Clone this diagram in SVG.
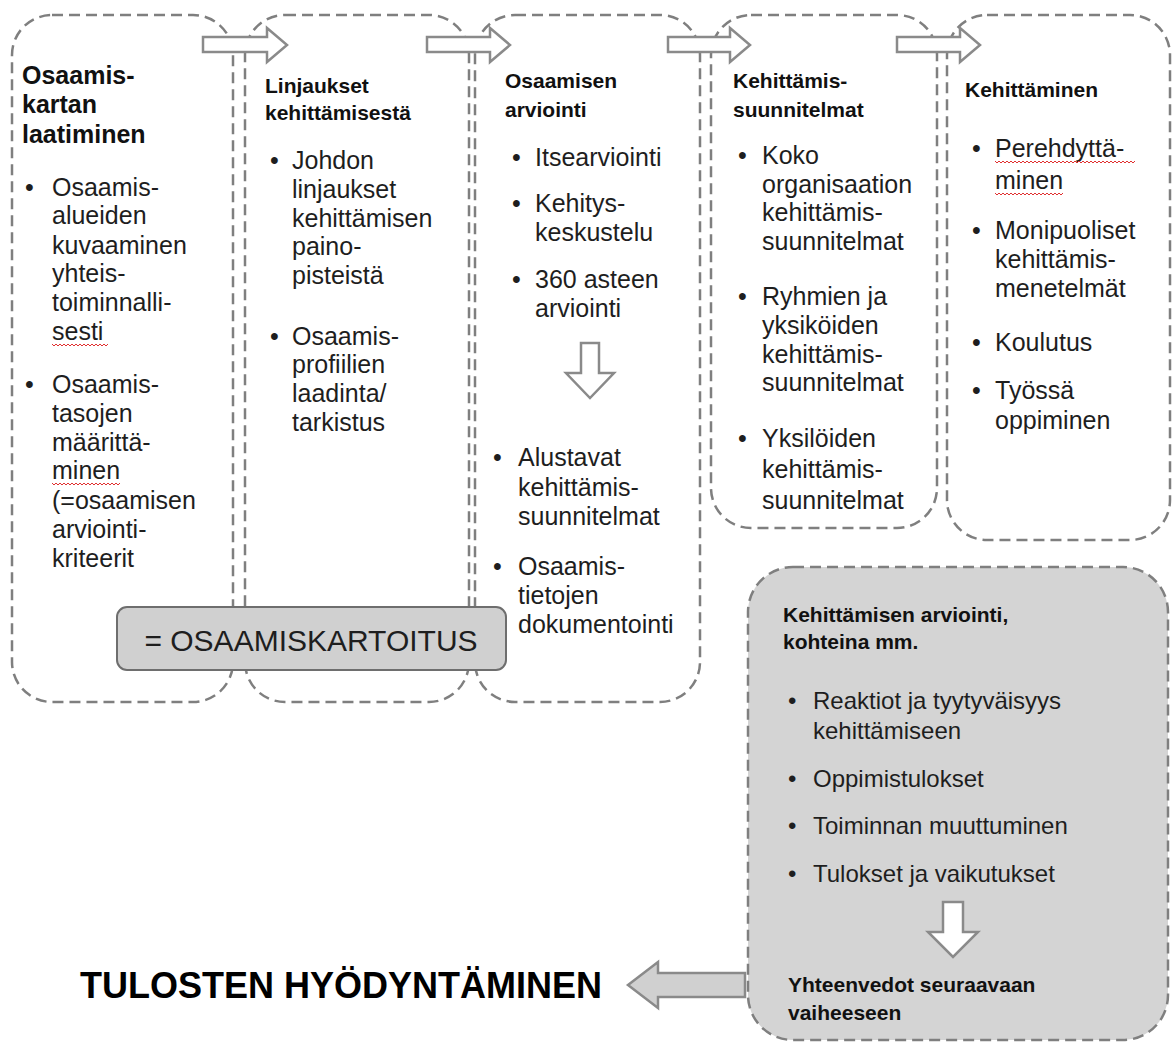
<svg xmlns="http://www.w3.org/2000/svg" width="1176" height="1045" viewBox="0 0 1176 1045">
<style>
.box{fill:#ffffff;stroke:#7f7f7f;stroke-width:2.5;stroke-dasharray:11 6}
.gbox{fill:#d4d4d4;stroke:#7f7f7f;stroke-width:2.5;stroke-dasharray:11 6}
.arr{fill:#ffffff;stroke:#8a8a8a;stroke-width:2.5;stroke-linejoin:miter}
.garr{fill:#d0d0d0;stroke:#8a8a8a;stroke-width:2.5}
text{font-family:"Liberation Sans",Arial,sans-serif;fill:#1e1e1e}
.b{font-size:25px}
.b6{font-size:24px}
.t{font-size:21px;font-weight:bold;fill:#111}
.t1{font-size:25px;font-weight:bold;fill:#111}
.sq{fill:none;stroke:#e03030;stroke-width:1}
</style>
<rect width="1176" height="1045" fill="#ffffff"/>

<g id="box1">
<rect class="box" x="12" y="15" width="221" height="687" rx="40"/>
<text class="t1" x="22" y="84">Osaamis-</text>
<text class="t1" x="22" y="113">kartan</text>
<text class="t1" x="22" y="143">laatiminen</text>
<text class="b" x="25" y="196">•</text>
<text class="b" x="52" y="196">Osaamis-</text>
<text class="b" x="52" y="224">alueiden</text>
<text class="b" x="52" y="254">kuvaaminen</text>
<text class="b" x="52" y="282">yhteis-</text>
<text class="b" x="52" y="311">toiminnalli-</text>
<text class="b" x="52" y="340">sesti</text>
<path class="sq" d="M52,344 l2,2 2,-2 2,2 2,-2 2,2 2,-2 2,2 2,-2 2,2 2,-2 2,2 2,-2 2,2 2,-2 2,2 2,-2 2,2 2,-2 2,2 2,-2 2,2 2,-2 2,2 2,-2 2,2 2,-2 2,2 2,-2"/>
<text class="b" x="25" y="393">•</text>
<text class="b" x="52" y="393">Osaamis-</text>
<text class="b" x="52" y="422">tasojen</text>
<text class="b" x="52" y="451">määrittä-</text>
<text class="b" x="52" y="479">minen</text>
<path class="sq" d="M52,483 l2,2 2,-2 2,2 2,-2 2,2 2,-2 2,2 2,-2 2,2 2,-2 2,2 2,-2 2,2 2,-2 2,2 2,-2 2,2 2,-2 2,2 2,-2 2,2 2,-2 2,2 2,-2 2,2 2,-2 2,2 2,-2 2,2 2,-2 2,2 2,-2 2,2 2,-2"/>
<text class="b" x="52" y="509">(=osaamisen</text>
<text class="b" x="52" y="538">arviointi-</text>
<text class="b" x="52" y="567">kriteerit</text>
</g>

<g id="box2">
<rect class="box" x="245" y="15" width="224" height="687" rx="40"/>
<text class="t" x="265" y="93">Linjaukset</text>
<text class="t" x="265" y="120">kehittämisestä</text>
<text class="b" x="270" y="169">•</text>
<text class="b" x="292" y="169">Johdon</text>
<text class="b" x="292" y="198">linjaukset</text>
<text class="b" x="292" y="227">kehittämisen</text>
<text class="b" x="292" y="255">paino-</text>
<text class="b" x="292" y="284">pisteistä</text>
<text class="b" x="270" y="345">•</text>
<text class="b" x="292" y="345">Osaamis-</text>
<text class="b" x="292" y="373">profiilien</text>
<text class="b" x="292" y="402">laadinta/</text>
<text class="b" x="292" y="431">tarkistus</text>
</g>

<g id="box3">
<rect class="box" x="475" y="15" width="225" height="687" rx="40"/>
<text class="t" x="505" y="88">Osaamisen</text>
<text class="t" x="505" y="117">arviointi</text>
<text class="b" x="512" y="166">•</text>
<text class="b" x="535" y="166">Itsearviointi</text>
<text class="b" x="512" y="212">•</text>
<text class="b" x="535" y="212">Kehitys-</text>
<text class="b" x="535" y="241">keskustelu</text>
<text class="b" x="512" y="288">•</text>
<text class="b" x="535" y="288">360 asteen</text>
<text class="b" x="535" y="317">arviointi</text>
<text class="b" x="493" y="466">•</text>
<text class="b" x="518" y="466">Alustavat</text>
<text class="b" x="518" y="496">kehittämis-</text>
<text class="b" x="518" y="525">suunnitelmat</text>
<text class="b" x="493" y="575">•</text>
<text class="b" x="518" y="575">Osaamis-</text>
<text class="b" x="518" y="604">tietojen</text>
<text class="b" x="518" y="633">dokumentointi</text>
</g>

<g id="box4">
<rect class="box" x="711" y="15" width="226" height="513" rx="40"/>
<text class="t" x="733" y="88">Kehittämis-</text>
<text class="t" x="733" y="117">suunnitelmat</text>
<text class="b" x="738" y="164">•</text>
<text class="b" x="762" y="164">Koko</text>
<text class="b" x="762" y="193">organisaation</text>
<text class="b" x="762" y="221">kehittämis-</text>
<text class="b" x="762" y="250">suunnitelmat</text>
<text class="b" x="738" y="305">•</text>
<text class="b" x="762" y="305">Ryhmien ja</text>
<text class="b" x="762" y="334">yksiköiden</text>
<text class="b" x="762" y="363">kehittämis-</text>
<text class="b" x="762" y="391">suunnitelmat</text>
<text class="b" x="738" y="447">•</text>
<text class="b" x="762" y="447">Yksilöiden</text>
<text class="b" x="762" y="478">kehittämis-</text>
<text class="b" x="762" y="509">suunnitelmat</text>
</g>

<g id="box5">
<rect class="box" x="947" y="15" width="223" height="525" rx="40"/>
<text class="t" x="965" y="97">Kehittäminen</text>
<text class="b" x="972" y="157">•</text>
<text class="b" x="995" y="157">Perehdyttä-</text>
<path class="sq" d="M995,161 l2,2 2,-2 2,2 2,-2 2,2 2,-2 2,2 2,-2 2,2 2,-2 2,2 2,-2 2,2 2,-2 2,2 2,-2 2,2 2,-2 2,2 2,-2 2,2 2,-2 2,2 2,-2 2,2 2,-2 2,2 2,-2 2,2 2,-2 2,2 2,-2 2,2 2,-2 2,2 2,-2 2,2 2,-2 2,2 2,-2 2,2 2,-2 2,2 2,-2 2,2 2,-2 2,2 2,-2 2,2 2,-2 2,2 2,-2 2,2 2,-2 2,2 2,-2 2,2 2,-2 2,2 2,-2 2,2 2,-2 2,2 2,-2 2,2 2,-2 2,2 2,-2 2,2 2,-2"/>
<text class="b" x="995" y="189">minen</text>
<path class="sq" d="M995,193 l2,2 2,-2 2,2 2,-2 2,2 2,-2 2,2 2,-2 2,2 2,-2 2,2 2,-2 2,2 2,-2 2,2 2,-2 2,2 2,-2 2,2 2,-2 2,2 2,-2 2,2 2,-2 2,2 2,-2 2,2 2,-2 2,2 2,-2 2,2 2,-2 2,2 2,-2"/>
<text class="b" x="972" y="239">•</text>
<text class="b" x="995" y="239">Monipuoliset</text>
<text class="b" x="995" y="268">kehittämis-</text>
<text class="b" x="995" y="297">menetelmät</text>
<text class="b" x="972" y="351">•</text>
<text class="b" x="995" y="351">Koulutus</text>
<text class="b" x="972" y="399">•</text>
<text class="b" x="995" y="399">Työssä</text>
<text class="b" x="995" y="429">oppiminen</text>
</g>

<g id="box6">
<rect class="gbox" x="748" y="567" width="420" height="473" rx="45"/>
<text class="t" x="783" y="622">Kehittämisen arviointi,</text>
<text class="t" x="783" y="649">kohteina mm.</text>
<text class="b6" x="788" y="709">•</text>
<text class="b6" x="813" y="709">Reaktiot ja tyytyväisyys</text>
<text class="b6" x="813" y="739">kehittämiseen</text>
<text class="b6" x="788" y="787">•</text>
<text class="b6" x="813" y="787">Oppimistulokset</text>
<text class="b6" x="788" y="834">•</text>
<text class="b6" x="813" y="834">Toiminnan muuttuminen</text>
<text class="b6" x="788" y="882">•</text>
<text class="b6" x="813" y="882">Tulokset ja vaikutukset</text>
<text class="t" x="788" y="992">Yhteenvedot seuraavaan</text>
<text class="t" x="788" y="1020">vaiheeseen</text>
</g>

<g id="osaamiskartoitus">
<rect x="117" y="607" width="389" height="63" rx="10" fill="#d0d0d0" stroke="#6e6e6e" stroke-width="2"/>
<text x="311" y="651" text-anchor="middle" style="font-size:30px">= OSAAMISKARTOITUS</text>
</g>

<g id="tulosten">
<text x="80" y="998" style="font-size:36px;font-weight:bold;fill:#000">TULOSTEN HYÖDYNTÄMINEN</text>
</g>

<g id="connectors">
<polygon class="arr" points="203,37 267,37 267,28 287,45 267,62 267,52 203,52"/>
<polygon class="arr" points="427,37 490,37 490,28 510,45 490,62 490,52 427,52"/>
<polygon class="arr" points="668,37 730,37 730,28 750,45 730,62 730,52 668,52"/>
<polygon class="arr" points="897,37 960,37 960,28 980,45 960,62 960,52 897,52"/>
<polygon class="arr" points="581,343 599,343 599,373 614,373 590,398 566,373 581,373"/>
<polygon class="arr" points="943,902 963,902 963,932 978,932 953,957 928,932 943,932"/>
<polygon class="garr" points="628,985 658,962 658,973 745,973 745,997 658,997 658,1008"/>
</g>
</svg>
